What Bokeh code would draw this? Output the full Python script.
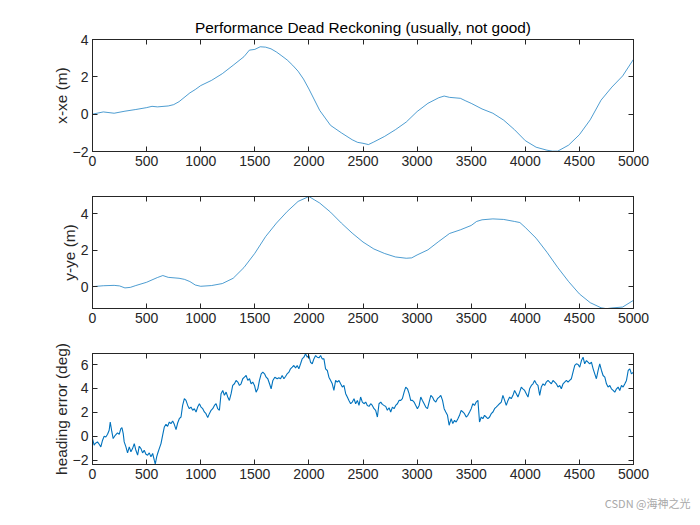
from bokeh.plotting import figure
from bokeh.layouts import column
from bokeh.models import Range1d, FixedTicker, LinearAxis, Title, CustomJSTickFormatter
from bokeh.embed import file_html
from bokeh.resources import INLINE

# ---------------- data ----------------
x_ticks = [0, 500, 1000, 1500, 2000, 2500, 3000, 3500, 4000, 4500, 5000]

t_x = [0, 100, 200, 300, 400, 500, 550, 600, 700, 750, 800, 900, 950, 1000, 1100, 1200,
       1300, 1400, 1450, 1500, 1550, 1600, 1650, 1700, 1750, 1800, 1850, 1900, 1950, 2000,
       2100, 2200, 2300, 2400, 2450, 2500, 2550, 2600, 2700, 2800, 2900, 3000, 3100, 3200,
       3250, 3300, 3400, 3450, 3500, 3600, 3700, 3800, 3900, 4000, 4100, 4200, 4250, 4300,
       4400, 4500, 4600, 4700, 4800, 4900, 5000]
x_err = [0.0, 0.12, 0.05, 0.16, 0.25, 0.35, 0.42, 0.39, 0.44, 0.51, 0.67, 1.14, 1.32, 1.53,
         1.81, 2.17, 2.62, 3.08, 3.43, 3.47, 3.61, 3.59, 3.5, 3.33, 3.12, 2.9, 2.62, 2.3,
         1.88, 1.35, 0.2, -0.6, -1.0, -1.37, -1.51, -1.56, -1.63, -1.49, -1.19, -0.83,
         -0.42, 0.14, 0.58, 0.88, 0.97, 0.9, 0.85, 0.71, 0.58, 0.28, 0.05, -0.32, -0.83,
         -1.42, -1.77, -1.93, -1.98, -1.98, -1.66, -1.10, -0.30, 0.75, 1.45, 2.05, 2.94]

t_y = [0, 100, 200, 250, 300, 350, 400, 500, 600, 650, 700, 800, 850, 900, 950, 1000, 1100,
       1200, 1300, 1400, 1500, 1600, 1700, 1800, 1900, 2000, 2050, 2100, 2200, 2300, 2400,
       2500, 2600, 2700, 2800, 2900, 2950, 3000, 3100, 3200, 3300, 3400, 3500, 3550, 3600,
       3700, 3800, 3900, 3950, 4000, 4100, 4200, 4300, 4400, 4500, 4600, 4700, 4750, 4800,
       4900, 5000]
y_err = [0.0, 0.05, 0.07, 0.04, -0.07, -0.04, 0.06, 0.24, 0.5, 0.61, 0.51, 0.46, 0.4, 0.28,
         0.09, 0.02, 0.06, 0.17, 0.46, 1.05, 1.83, 2.75, 3.49, 4.13, 4.68, 4.95, 4.77, 4.59,
         4.09, 3.49, 2.94, 2.45, 2.07, 1.82, 1.63, 1.56, 1.58, 1.74, 2.02, 2.48, 2.92, 3.12,
         3.36, 3.58, 3.67, 3.72, 3.69, 3.58, 3.52, 3.25, 2.66, 1.89, 1.05, 0.28, -0.40, -0.88,
         -1.16, -1.21, -1.17, -1.12, -0.75]

t_h = [0, 15, 25, 46, 62, 77, 93, 108, 123, 139, 154, 164, 179, 191, 210, 231, 247, 262, 272,
       284, 293, 309, 324, 340, 355, 370, 386, 401, 417, 432, 448, 463, 478, 494, 509, 525,
       540, 556, 571, 580, 593, 602, 617, 633, 648, 664, 679, 694, 710, 725, 741, 756, 772,
       787, 802, 818, 833, 849, 864, 880, 895, 910, 926, 941, 957, 972, 988, 1003, 1019, 1034,
       1049, 1065, 1080, 1096, 1111, 1127, 1142, 1157, 1173, 1188, 1204, 1219, 1235, 1250,
       1265, 1281, 1296, 1312, 1327, 1343, 1358, 1373, 1389, 1404, 1420, 1435, 1451, 1466,
       1481, 1497, 1512, 1528, 1543, 1559, 1574, 1590, 1605, 1620, 1636, 1651, 1667, 1685,
       1707, 1722, 1738, 1753, 1769, 1784, 1799, 1815, 1830, 1846, 1861, 1877, 1892, 1907,
       1923, 1938, 1954, 1969, 1985, 2000, 2015, 2031, 2046, 2062, 2077, 2093, 2108, 2123,
       2139, 2154, 2170, 2185, 2201, 2216, 2231, 2247, 2262, 2278, 2293, 2309, 2324, 2340,
       2355, 2370, 2386, 2401, 2417, 2432, 2448, 2463, 2478, 2494, 2509, 2525, 2540, 2556,
       2571, 2586, 2602, 2617, 2633, 2648, 2664, 2679, 2694, 2710, 2725, 2741, 2756, 2772,
       2787, 2802, 2818, 2833, 2849, 2864, 2880, 2895, 2911, 2926, 2941, 2957, 2972, 2988,
       3003, 3019, 3034, 3049, 3065, 3080, 3096, 3111, 3127, 3142, 3157, 3173, 3188, 3204,
       3219, 3235, 3250, 3265, 3281, 3296, 3315, 3330, 3346, 3361, 3377, 3392, 3407, 3423,
       3438, 3454, 3469, 3485, 3500, 3515, 3531, 3546, 3562, 3577, 3593, 3608, 3623, 3639,
       3654, 3670, 3685, 3701, 3716, 3731, 3747, 3762, 3778, 3793, 3809, 3824, 3840, 3855,
       3870, 3886, 3901, 3917, 3932, 3948, 3963, 3978, 3994, 4009, 4025, 4040, 4056, 4071,
       4086, 4102, 4117, 4133, 4148, 4164, 4179, 4194, 4210, 4225, 4241, 4256, 4272, 4287,
       4302, 4318, 4333, 4349, 4364, 4380, 4395, 4410, 4426, 4441, 4457, 4472, 4488, 4503,
       4519, 4534, 4549, 4565, 4580, 4596, 4611, 4627, 4642, 4657, 4673, 4688, 4704, 4719,
       4735, 4750, 4765, 4781, 4796, 4812, 4827, 4843, 4858, 4873, 4889, 4904, 4920, 4935,
       4951, 4966, 4981, 5000]
heading = [-0.19, -0.75, -0.6, -0.47, -0.67, -0.89, -0.33, 0.0, -0.06, 0.17, 0.5, 1.19, 0.36,
           -0.19, 0.08, 0.28, 0.17, 0.64, 0.72, 0.22, -0.47, -0.89, -1.39, -0.89, -1.3, -1.03,
           -0.61, -1.17, -1.58, -0.83, -1.03, -1.39, -1.17, -1.5, -1.58, -1.39, -1.72, -1.44,
           -2.0, -2.33, -1.72, -1.44, -1.03, -0.61, 0.08, 0.78, 1.0, 0.83, 1.19, 1.06, 1.28,
           1.0, 0.56, 1.11, 1.47, 1.61, 2.58, 3.14, 3.0, 2.58, 2.31, 2.44, 2.17, 2.31, 2.03,
           2.44, 2.72, 2.44, 2.31, 2.03, 1.89, 1.56, 1.89, 2.17, 2.31, 2.58, 2.72, 2.31, 2.17,
           3.56, 3.83, 3.42, 3.69, 3.28, 3.0, 3.56, 4.25, 4.39, 4.67, 4.53, 4.25, 4.39, 4.81,
           4.94, 5.08, 4.67, 4.81, 4.39, 4.53, 4.25, 3.69, 3.97, 4.67, 5.22, 5.36, 5.22, 4.94,
           4.81, 4.39, 3.97, 4.67, 4.94,
           4.81, 4.89, 4.81, 5.08, 4.81, 5.0, 5.22, 5.36, 5.64, 5.78, 5.92, 5.72, 5.92, 5.64,
           6.06, 6.47, 6.61, 6.89, 6.61, 6.75, 6.19, 6.06, 6.47, 6.75, 6.61, 6.56, 6.75, 6.47,
           6.47, 5.64, 5.5, 4.94, 4.67, 4.39, 3.83, 4.67, 4.53, 4.67, 4.39, 4.11, 4.25, 3.56,
           3.28, 3.0, 2.72, 2.86, 3.14, 2.72, 3.0, 2.58, 3.28, 2.86, 2.72, 2.86, 2.58, 2.5,
           2.72, 2.58, 2.31, 2.17, 1.61, 2.72, 2.86, 2.67, 2.58, 2.5, 2.17, 2.39, 2.03, 2.44,
           2.31, 2.58, 2.72, 3.0, 3.0, 3.14, 3.69, 4.11, 3.97, 3.56, 3.0, 3.0, 2.86, 2.58,
           2.31, 2.58, 3.28, 3.0, 2.72, 2.44, 2.31, 2.86, 3.42, 3.28, 3.0, 2.86, 3.14, 3.28,
           3.42, 3.0, 2.31, 2.03, 1.75, 0.92, 1.47, 1.06, 1.33, 1.19, 1.47, 1.75, 2.17, 2.03,
           1.89, 1.61, 1.75, 2.03, 2.31, 2.72, 2.58, 2.86, 3.0, 1.19, 1.61, 1.47, 1.75, 1.61,
           1.47, 1.61, 1.89, 2.03, 2.31, 2.44, 2.58, 2.72, 2.86, 3.42, 3.0, 2.58, 3.0, 3.28,
           3.14, 3.42, 3.83, 3.56, 3.28, 3.69, 4.11, 3.97, 3.83, 3.56, 3.28, 3.97, 4.25, 4.39,
           4.67, 4.39, 4.25, 3.42, 4.11, 4.39, 4.25, 4.53, 4.67, 4.53, 4.39, 4.67, 4.53, 4.39,
           4.11, 4.25, 3.97, 4.39, 4.53, 4.67, 4.53, 4.67, 4.81, 5.36, 5.92, 6.06, 6.0, 5.78,
           6.33, 6.61, 6.06, 6.33, 6.19, 6.06, 6.19, 5.64, 5.22, 4.81, 5.5, 6.06, 5.5, 5.08,
           4.94, 4.39, 4.11, 4.25, 3.97, 3.83, 3.69, 3.97, 4.11, 3.83, 4.25, 4.11, 4.39, 4.67,
           5.5, 5.64, 5.22, 5.36]

# ---------------- style ----------------
AX = "#262626"
LINE = "#0072BD"
FONT = "Liberation Sans"
W = 692


def style_axis(ax, ticks, labels=True):
    ax.ticker = FixedTicker(ticks=ticks)
    ax.major_tick_in = 5
    ax.major_tick_out = 0
    ax.minor_tick_in = 0
    ax.minor_tick_out = 0
    ax.axis_line_color = AX
    ax.major_tick_line_color = AX
    ax.major_label_text_font = FONT
    ax.major_label_text_color = AX
    ax.axis_label_text_font = FONT
    ax.axis_label_text_font_style = "normal"
    ax.axis_label_text_font_size = "15.4px"
    ax.axis_label_text_color = AX
    if labels:
        ax.major_label_text_font_size = "14px"
        ax.major_label_standoff = 4
    else:
        ax.formatter = CustomJSTickFormatter(code="return ''")
        ax.major_label_text_font_size = "1px"
        ax.major_label_standoff = 0


def make_fig(height, top, bottom, yr, yticks, ylabel):
    p = figure(width=W, height=height, output_backend="svg", toolbar_location=None,
               x_range=Range1d(0, 5000), y_range=Range1d(*yr),
               min_border_left=92, min_border_right=59,
               min_border_top=top, min_border_bottom=bottom)
    p.xgrid.visible = False
    p.ygrid.visible = False
    p.outline_line_color = AX
    p.background_fill_color = "white"
    p.border_fill_color = "white"
    style_axis(p.xaxis[0], x_ticks)
    style_axis(p.yaxis[0], yticks)
    p.yaxis[0].axis_label = ylabel
    p.yaxis[0].axis_label_standoff = 0
    top_ax = LinearAxis()
    style_axis(top_ax, x_ticks, labels=False)
    p.add_layout(top_ax, "above")
    right_ax = LinearAxis()
    style_axis(right_ax, yticks, labels=False)
    p.add_layout(right_ax, "right")
    return p


p1 = make_fig(181, 39, 30, (-2, 4), [-2, 0, 2, 4], "x-xe (m)")
p1.title.text = "Performance Dead Reckoning (usually, not good)"
p1.title.align = "center"
p1.title.text_font = FONT
p1.title.text_font_size = "15.4px"
p1.title.text_font_style = "normal"
p1.title.text_color = "#000000"
p1.title.standoff = 7
p1.line(t_x, x_err, line_color=LINE, line_width=0.7)

p2 = make_fig(157, 15, 30, (-1.2, 4.95), [0, 2, 4], "y-ye (m)")
p2.line(t_y, y_err, line_color=LINE, line_width=0.7)

p3 = make_fig(185, 15, 59, (-2.36, 6.92), [-2, 0, 2, 4, 6], "heading error (deg)")
p3.line(t_h, heading, line_color=LINE, line_width=1.1)
wm = Title(text="CSDN @海神之光", align="right", text_font="Noto Sans CJK SC",
           text_font_size="11px", text_font_style="normal", text_color="#a8a8a8",
           offset=-57, standoff=23)
p3.add_layout(wm, "below")

layout = column(p1, p2, p3)
open("out.html", "w").write(file_html(layout, INLINE))
